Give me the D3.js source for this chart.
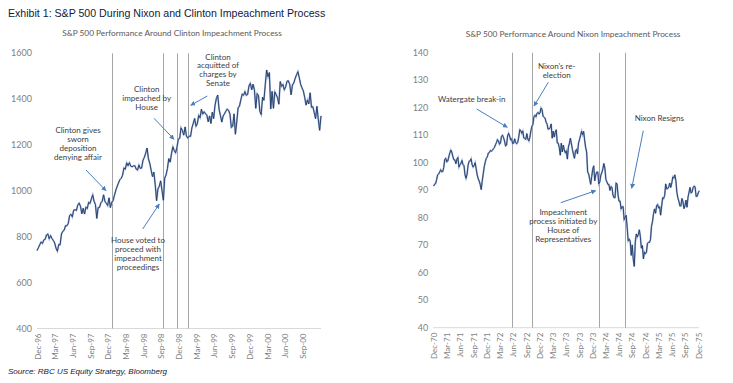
<!DOCTYPE html>
<html>
<head>
<meta charset="utf-8">
<script src="https://cdn.jsdelivr.net/npm/d3@7"></script>
<style>
  body { margin: 0; background: #fff; }
  svg { display: block; }
</style>
</head>
<body>
<script>
const width = 733;
const height = 383;

// Clinton era, weekly closes (Fridays) starting 27 Dec 1996
const clintonStart = "1996-12-27";
const clinton1996 = [740];
const clinton1997 = [752, 765, 777, 771, 786, 789, 808, 812, 791, 805, 793, 784, 773, 750, 737, 766, 765,
  812, 824, 829, 848, 848, 858, 893, 898, 887, 916, 918, 915, 938, 947, 933, 900, 924, 899,
  929, 923, 950, 945, 965, 983, 955, 941, 880, 927, 928, 948, 955, 983, 954, 946, 936];
const clinton1998 = [970, 927, 950, 958, 981, 1003, 1020, 1035, 1049, 1055, 1069, 1100, 1095,
  1122, 1110, 1123, 1108, 1105, 1109, 1110, 1095, 1091, 1113, 1098, 1100, 1134,
  1146, 1165, 1187, 1140, 1120, 1090, 1062, 1082, 1027, 957, 1009, 1020, 1044,
  1002, 959, 1056, 1070, 1098, 1141, 1125, 1164, 1192, 1176, 1166, 1190, 1226];
const clinton1999 = [1229, 1275, 1263, 1243, 1279, 1239, 1230, 1239, 1238, 1275, 1295, 1316, 1282,
  1293, 1329, 1319, 1356, 1335, 1345, 1337, 1330, 1301, 1327, 1294, 1343, 1315,
  1373, 1403, 1418, 1356, 1328, 1300, 1327, 1336, 1348, 1357, 1351, 1335, 1277,
  1282, 1336, 1247, 1301, 1362, 1370, 1397, 1422, 1417, 1433, 1417, 1421, 1458, 1469];
const clinton2000 = [1441, 1465, 1441, 1360, 1424, 1416, 1346, 1333, 1409, 1395, 1464, 1527, 1498,
  1516, 1357, 1434, 1360, 1432, 1420, 1406, 1378, 1477, 1456, 1464, 1441, 1454,
  1478, 1480, 1464, 1419, 1462, 1471, 1491, 1506, 1520, 1494, 1465, 1449, 1436,
  1408, 1374, 1396, 1379, 1428, 1365, 1367, 1342, 1315, 1369, 1312, 1264, 1327];

// Nixon era, weekly closes (Fridays) starting 25 Dec 1970
const nixonStart = "1970-12-25";
const nixon1970 = [91.5];
const nixon1971 = [92.2, 92.4, 93.9, 95.6, 95.9, 96.6, 97.4, 96.7, 96.8, 98.2, 101.2, 101.6, 100.3,
  100.6, 102.1, 103.5, 104.6, 103.9, 102.2, 101.1, 101.0, 99.6, 101.3, 101.9, 98.4, 99.2,
  99.8, 100.8, 99.3, 98.9, 95.6, 94.3, 95.7, 99.0, 100.5, 100.6, 101.4, 99.3, 98.4,
  99.0, 100.0, 97.8, 95.6, 94.2, 93.3, 92.1, 90.2, 93.4, 96.0, 98.6, 100.3, 101.6, 102.1];
const nixon1972 = [103.5, 103.7, 104.4, 104.2, 104.5, 105.1, 105.5, 106.5, 107.3, 108.4, 107.9, 106.7, 107.2,
  109.6, 110.0, 109.1, 107.9, 106.1, 106.4, 109.7, 110.7, 109.7, 108.3, 108.7, 106.9, 107.1,
  108.7, 107.3, 106.9, 107.4, 109.3, 112.0, 111.7, 110.7, 111.5, 109.0, 108.8, 108.5, 110.6,
  108.6, 107.9, 109.2, 111.6, 113.2, 113.9, 116.7, 117.3, 116.7, 117.9, 118.3, 117.7, 118.1];
const nixon1973 = [119.9, 119.3, 116.9, 116.5, 116.2, 114.7, 114.0, 112.2, 112.3, 112.7, 114.1, 108.9, 111.5,
  109.3, 111.0, 112.0, 107.2, 107.1, 105.5, 102.7, 107.1, 103.9, 106.4, 104.6, 103.6, 104.3,
  101.3, 105.7, 107.1, 108.9, 106.8, 104.8, 103.0, 101.6, 104.3, 104.8, 103.2, 107.2, 108.4,
  109.9, 111.4, 110.2, 111.4, 108.3, 105.5, 103.9, 96.6, 95.9, 94.0, 92.1, 94.9, 97.6];
const nixon1974 = [98.9, 93.4, 95.6, 96.6, 96.6, 92.3, 93.0, 95.5, 96.4, 97.8, 99.7, 98.0, 93.9,
  93.0, 92.1, 92.1, 89.9, 91.3, 91.0, 88.2, 87.3, 87.3, 92.6, 92.3, 88.2, 86.0,
  86.0, 83.2, 84.0, 84.0, 79.3, 80.0, 80.9, 76.3, 71.6, 72.2, 71.4, 66.3, 70.1, 64.9,
  62.3, 71.1, 74.1, 73.0, 73.9, 75.6, 73.1, 68.9, 69.9, 65.0, 67.5, 66.9, 67.4];
const nixon1975 = [70.7, 71.0, 71.0, 72.1, 76.9, 78.6, 81.5, 83.2, 81.6, 84.3, 84.8, 83.6, 83.9,
  80.9, 84.2, 87.2, 87.0, 88.1, 92.3, 90.5, 90.6, 91.2, 92.6, 91.0, 92.6, 94.8,
  94.4, 95.6, 93.6, 89.3, 87.2, 86.0, 84.3, 84.3, 87.0, 85.9, 83.3, 84.3, 86.4,
  83.8, 87.4, 89.2, 91.0, 89.0, 89.3, 90.9, 91.5, 91.2, 87.8, 87.8, 88.9, 89.8];

// event dates (vertical lines)
const clintonEvents = ["1998-01-17", "1998-10-08", "1998-12-19", "1999-02-12"];
const nixonEvents = ["1972-06-17", "1972-11-07", "1974-02-06", "1974-08-09"];

// axis labels
const clintonTicks = ["1996-12-31", "1997-03-31", "1997-06-30", "1997-09-30", "1997-12-31", "1998-03-31",
  "1998-06-30", "1998-09-30", "1998-12-31", "1999-03-31", "1999-06-30", "1999-09-30", "1999-12-31",
  "2000-03-31", "2000-06-30", "2000-09-30"];
const nixonTicks = ["1970-12-31", "1971-03-31", "1971-06-30", "1971-09-30", "1971-12-31", "1972-03-31",
  "1972-06-30", "1972-09-30", "1972-12-31", "1973-03-31", "1973-06-30", "1973-09-30", "1973-12-31",
  "1974-03-31", "1974-06-30", "1974-09-30", "1974-12-31", "1975-03-31", "1975-06-30", "1975-09-30",
  "1975-12-31"];
const clintonYTicks = [400, 600, 800, 1000, 1200, 1400, 1600];
const nixonYTicks = [40, 50, 60, 70, 80, 90, 100, 110, 120, 130, 140];

// annotation texts
const clintonNoteText = [
  ["Clinton gives", "sworn", "deposition", "denying affair"],
  ["House voted to", "proceed with", "impeachment", "proceedings"],
  ["Clinton", "impeached by", "House"],
  ["Clinton", "acquitted of", "charges by", "Senate"]
];
const nixonNoteText = [
  ["Watergate break-in"],
  ["Nixon\u2019s re-", "election"],
  ["Impeachment", "process initiated by", "House of", "Representatives"],
  ["Nixon Resigns"]
];

const parse = d3.timeParse("%Y-%m-%d");
const fmtTick = d3.timeFormat("%b-%y");

function weekly(start, values) {
  const t0 = parse(start);
  return values.map((v, i) => ({ date: d3.timeDay.offset(t0, i * 7), value: v }));
}

const clintonData = weekly(clintonStart, [].concat(clinton1996, clinton1997, clinton1998, clinton1999, clinton2000));
const nixonData = weekly(nixonStart, [].concat(nixon1970, nixon1971, nixon1972, nixon1973, nixon1974, nixon1975));

const svg = d3.select("body").append("svg")
  .attr("width", width)
  .attr("height", height);

svg.append("defs").append("marker")
  .attr("id", "arrow")
  .attr("viewBox", "0 0 10 10")
  .attr("refX", 9).attr("refY", 5)
  .attr("markerWidth", 5).attr("markerHeight", 5)
  .attr("orient", "auto")
  .append("path")
  .attr("d", "M0,0 L10,5 L0,10 z")
  .attr("fill", "#4a7ebb");

svg.append("text")
  .attr("x", 8).attr("y", 16.5)
  .text("Exhibit 1: S&P 500 During Nixon and Clinton Impeachment Process")
  .style("font-family", "Liberation Sans, Arial, sans-serif")
  .style("font-size", "10.6px")
  .style("fill", "#0f1a3a");

svg.append("text")
  .attr("x", 8).attr("y", 374)
  .text("Source: RBC US Equity Strategy, Bloomberg")
  .style("font-family", "Liberation Sans, Arial, sans-serif")
  .style("font-style", "italic")
  .style("font-size", "8px")
  .style("fill", "#0f1a3a");

function drawPanel(cfg) {
  const x = d3.scaleTime().domain(cfg.xDomain.map(parse)).range(cfg.xRange);
  const y = d3.scaleLinear().domain(cfg.yDomain).range(cfg.yRange);
  const g = svg.append("g");

  g.append("text")
    .attr("x", cfg.titleX).attr("y", cfg.titleY)
    .attr("text-anchor", "middle")
    .text(cfg.title)
    .style("font-family", "Lato, sans-serif")
    .style("font-size", "8.3px")
    .style("fill", "#595959");

  // y labels
  g.selectAll(".ylab")
    .data(cfg.yTicks)
    .enter().append("text")
    .attr("x", cfg.xRange[0] - 5)
    .attr("y", d => y(d) + 3)
    .attr("text-anchor", "end")
    .text(d => d)
    .style("font-family", "Lato, sans-serif")
    .style("font-size", "9px")
    .style("fill", "#7f7f7f");

  // baseline
  g.append("line")
    .attr("x1", cfg.xRange[0]).attr("x2", cfg.xRange[1])
    .attr("y1", y(cfg.yDomain[0])).attr("y2", y(cfg.yDomain[0]))
    .attr("stroke", "#d9d9d9");

  // x labels
  g.selectAll(".xlab")
    .data(cfg.xTicks.map(parse))
    .enter().append("text")
    .attr("transform", d => `translate(${x(d) + 2.8},${y(cfg.yDomain[0]) + 5}) rotate(-90)`)
    .attr("text-anchor", "end")
    .text(d => fmtTick(d))
    .style("font-family", "Lato, sans-serif")
    .style("font-size", "8px")
    .style("fill", "#7f7f7f");

  // event lines
  g.selectAll(".ev")
    .data(cfg.events.map(parse))
    .enter().append("line")
    .attr("x1", d => Math.round(x(d)) + 0.5).attr("x2", d => Math.round(x(d)) + 0.5)
    .attr("y1", y(cfg.yDomain[1])).attr("y2", y(cfg.yDomain[0]))
    .attr("stroke", "#a6a6a6")
    .attr("stroke-width", 1);

  const line = d3.line()
    .x(d => x(d.date))
    .y(d => y(d.value));

  g.append("path")
    .datum(cfg.data)
    .attr("d", line)
    .attr("fill", "none")
    .attr("stroke", "#9fb4d6")
    .attr("stroke-width", 1.8);

  g.append("path")
    .datum(cfg.data)
    .attr("d", line)
    .attr("fill", "none")
    .attr("stroke", "#1f3864")
    .attr("stroke-width", 0.9);

  // annotations (layout in pixels)
  cfg.noteText.forEach((lines, k) => {
    const p = cfg.noteLayout[k];
    const t = g.append("text")
      .attr("text-anchor", "middle")
      .style("font-family", "Lato, sans-serif")
      .style("font-size", "8px")
      .style("fill", "#404040");
    lines.forEach((s, i) => {
      t.append("tspan")
        .attr("x", p.x)
        .attr("y", p.y + 2.8 + i * p.dy)
        .text(s);
    });
    g.append("line")
      .attr("x1", p.a[0]).attr("y1", p.a[1])
      .attr("x2", p.a[2]).attr("y2", p.a[3])
      .attr("stroke", "#4a7ebb")
      .attr("stroke-width", 1)
      .attr("marker-end", "url(#arrow)");
  });
}

drawPanel({
  title: "S&P 500 Performance Around Clinton Impeachment Process",
  titleX: 172, titleY: 36,
  xDomain: ["1996-12-27", "2000-12-29"], xRange: [37, 321],
  yDomain: [400, 1600], yRange: [328.5, 53.3],
  yTicks: clintonYTicks, xTicks: clintonTicks,
  events: clintonEvents, data: clintonData,
  noteText: clintonNoteText,
  noteLayout: [
    { x: 78, y: 130, dy: 9, a: [86, 170, 106, 190.7] },
    { x: 138, y: 240, dy: 9.1, a: [142.7, 229, 159.3, 204] },
    { x: 146.7, y: 89.3, dy: 8.7, a: [154, 118.3, 174, 139.3] },
    { x: 218, y: 56.7, dy: 8.9, a: [207.3, 96, 190.7, 105.3] }
  ]
});

drawPanel({
  title: "S&P 500 Performance Around Nixon Impeachment Process",
  titleX: 573, titleY: 37,
  xDomain: ["1970-12-23", "1976-01-01"], xRange: [433.3, 699],
  yDomain: [40, 140], yRange: [327.7, 52.7],
  yTicks: nixonYTicks, xTicks: nixonTicks,
  events: nixonEvents, data: nixonData,
  noteText: nixonNoteText,
  noteLayout: [
    { x: 471.7, y: 99, dy: 9, a: [476.7, 109, 507.3, 127.3] },
    { x: 556.7, y: 66, dy: 9, a: [548.3, 82.3, 534, 106] },
    { x: 563.3, y: 212.3, dy: 9, a: [560.7, 202.7, 595.7, 190.7] },
    { x: 659.3, y: 117.7, dy: 9, a: [643.3, 130.7, 631.7, 188.3] }
  ]
});
</script>
</body>
</html>
